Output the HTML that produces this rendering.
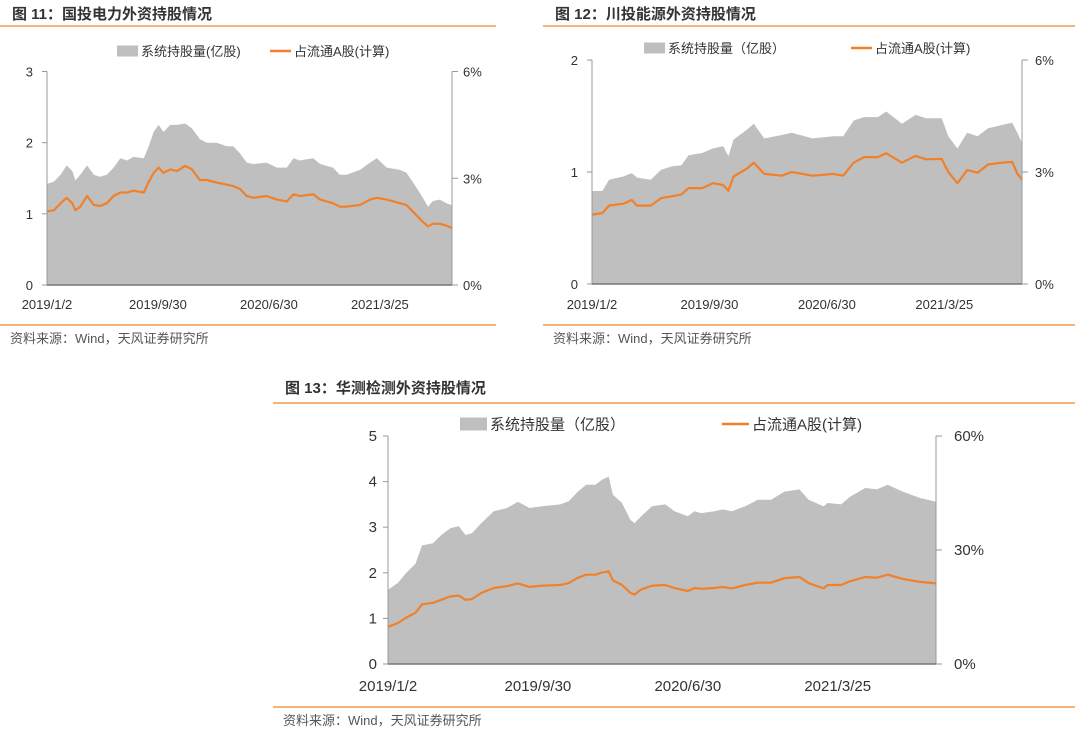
<!DOCTYPE html>
<html><head><meta charset="utf-8">
<style>
body{margin:0;background:#fff;width:1080px;height:735px;overflow:hidden;font-family:"Liberation Sans","Noto Sans CJK SC",sans-serif;}
svg text{font-family:"Liberation Sans","Noto Sans CJK SC",sans-serif;}
</style></head>
<body>
<svg id="root" width="1080" height="735" xmlns="http://www.w3.org/2000/svg">
</svg>
<script>
// ---- Chart 1: 国投电力 ----
const c1Days = [0,11,22,32,41,46,54,65,76,86,97,108,119,130,140,157,165,173,181,189,200,211,224,235,248,259,275,292,302,313,324,335,356,373,389,400,410,432,443,464,475,486,508,524,535,551,572,583,597,608,618,626,637,648,657];
const c1Hold = [1.42,1.45,1.55,1.68,1.6,1.47,1.55,1.68,1.55,1.52,1.55,1.65,1.78,1.75,1.8,1.78,1.95,2.15,2.25,2.15,2.25,2.25,2.27,2.2,2.05,2.0,2.0,1.95,1.95,1.85,1.72,1.7,1.72,1.65,1.65,1.78,1.75,1.78,1.7,1.65,1.55,1.55,1.62,1.72,1.78,1.65,1.62,1.58,1.4,1.25,1.1,1.18,1.2,1.15,1.12];
const c1Ratio = [2.07,2.1,2.3,2.45,2.3,2.1,2.2,2.5,2.25,2.22,2.3,2.5,2.6,2.6,2.65,2.6,2.9,3.15,3.3,3.15,3.25,3.2,3.35,3.25,2.95,2.95,2.88,2.82,2.78,2.7,2.5,2.45,2.5,2.4,2.35,2.55,2.5,2.55,2.4,2.3,2.2,2.2,2.25,2.4,2.45,2.4,2.3,2.25,2.0,1.8,1.65,1.72,1.72,1.67,1.6];
const c1LeftTicks = [0,1,2,3];
const c1RightTicks = [0,3,6];
// ---- Chart 2: 川投能源 ----
const c2Days = [0,16,26,48,61,69,90,106,122,137,148,169,185,201,209,217,238,248,264,291,306,338,370,385,401,417,438,451,475,496,512,536,546,560,575,591,607,628,644,652,659];
const c2Hold = [0.83,0.83,0.93,0.96,0.99,0.95,0.93,1.02,1.05,1.06,1.15,1.17,1.21,1.23,1.14,1.29,1.38,1.43,1.30,1.33,1.35,1.30,1.32,1.32,1.46,1.49,1.49,1.54,1.43,1.51,1.48,1.48,1.32,1.21,1.35,1.32,1.39,1.42,1.44,1.35,1.26];
const c2Ratio = [1.86,1.9,2.1,2.15,2.25,2.1,2.1,2.3,2.35,2.4,2.57,2.57,2.7,2.65,2.5,2.88,3.1,3.25,2.95,2.9,3.0,2.9,2.95,2.9,3.25,3.4,3.4,3.5,3.25,3.43,3.34,3.35,3.0,2.7,3.05,2.98,3.2,3.25,3.27,2.95,2.8];
const c2LeftTicks = [0,1,2];
const c2RightTicks = [0,3,6];
// ---- Chart 3: 华测检测 ----
const c3Days = [0,12,22,33,41,54,64,75,85,93,101,112,127,143,156,170,185,207,217,228,238,249,257,265,270,281,291,296,304,317,333,344,360,368,376,392,402,413,429,444,460,476,494,505,523,528,544,555,573,587,600,618,639,658];
const c3Hold = [1.63,1.78,2.0,2.2,2.6,2.65,2.83,2.98,3.02,2.83,2.87,3.09,3.35,3.42,3.56,3.42,3.46,3.50,3.57,3.78,3.93,3.93,4.04,4.11,3.71,3.53,3.16,3.09,3.24,3.46,3.50,3.35,3.24,3.35,3.31,3.35,3.39,3.35,3.46,3.60,3.60,3.78,3.83,3.60,3.46,3.53,3.50,3.67,3.86,3.83,3.93,3.78,3.64,3.56];
const c3Ratio = [9.8,10.8,12.2,13.5,15.7,16.1,16.9,17.8,18,16.9,17.1,18.7,20,20.5,21.2,20.3,20.6,20.8,21.3,22.7,23.5,23.5,24.1,24.4,22,20.8,18.7,18.3,19.6,20.6,20.8,20,19.2,20,19.8,20,20.3,19.9,20.8,21.4,21.4,22.6,22.9,21.3,19.9,20.8,20.8,21.8,22.9,22.7,23.5,22.4,21.6,21.2];
const c3LeftTicks = [0,1,2,3,4,5];
const c3RightTicks = [0,30,60];
// shared x-axis labels
const dateLabels = ["2019/1/2","2019/9/30","2020/6/30","2021/3/25"];
const dateLabelDays = [0,180,360,540];

const NS="http://www.w3.org/2000/svg";
const root=document.getElementById('root');
function mk(tag,attrs,parent,txt){const e=document.createElementNS(NS,tag);for(const k in attrs)e.setAttribute(k,attrs[k]);if(txt!==undefined)e.textContent=txt;(parent||root).appendChild(e);return e;}

function drawChart(cfg){
  const g=mk('g',{});
  
  
  const t=mk('text',{x:cfg.titleX,y:cfg.titleY,'font-size':15,'font-weight':'bold',fill:'#333'},g,cfg.title);
  
  
  const r1=mk('line',{x1:cfg.boxL,x2:cfg.boxR,y1:cfg.ruleTop,y2:cfg.ruleTop,stroke:'#F29A50','stroke-width':1.5},g);
  
  
  const r2=mk('line',{x1:cfg.boxL,x2:cfg.boxR,y1:cfg.ruleBot,y2:cfg.ruleBot,stroke:'#F29A50','stroke-width':1.5},g);
  
  
  const src=mk('text',{x:cfg.titleX-2,y:cfg.ruleBot+18,'font-size':13,fill:'#555'},g,'资料来源：Wind，天风证券研究所');
  
  

  const L=cfg.L,R=cfg.R,T=cfg.T,B=cfg.B;
  const maxDay=cfg.days[cfg.days.length-1];
  const xs=d=>L+(d/maxDay)*(R-L);
  const yl=v=>B-(v/cfg.lmax)*(B-T);
  const yr=v=>B-(v/cfg.rmax)*(B-T);

  // area
  let d='M'+xs(cfg.days[0])+','+B;
  cfg.days.forEach((dd,i)=>{d+=' L'+xs(dd).toFixed(1)+','+yl(cfg.hold[i]).toFixed(1);});
  d+=' L'+xs(maxDay)+','+B+' Z';
  const area=mk('path',{d:d,fill:'#BFBFBF'},g);
  
  
  // line
  let pts=cfg.days.map((dd,i)=>xs(dd).toFixed(1)+','+yr(cfg.ratio[i]).toFixed(1)).join(' ');
  const ln=mk('polyline',{points:pts,fill:'none',stroke:'#F0802A','stroke-width':2.2,'stroke-linejoin':'round'},g);
  
  

  // axes
  const la=mk('line',{x1:L,x2:L,y1:T,y2:B,stroke:'#999'},g);
  
  
  const ra=mk('line',{x1:R,x2:R,y1:T,y2:B,stroke:'#999'},g);
  
  
  const xa=mk('line',{x1:L,x2:R,y1:B,y2:B,stroke:'#777','stroke-width':1.5},g);
  
  
  cfg.lt.forEach(v=>{
    const y=yl(v);
    mk('line',{x1:L-5,x2:L,y1:y,y2:y,stroke:'#999'},g);
    const tx=mk('text',{x:L-cfg.lLabOff,y:y+5,'font-size':cfg.fs,fill:'#333','text-anchor':'end'},g,String(v));
    
    
  });
  cfg.rt.forEach(v=>{
    const y=yr(v);
    mk('line',{x1:R,x2:R+6,y1:y,y2:y,stroke:'#999'},g);
    const tx=mk('text',{x:R+cfg.rLabOff,y:y+5,'font-size':cfg.fs,fill:'#333'},g,v+'%');
    
    
  });
  dateLabels.forEach((s,i)=>{
    const tx=mk('text',{x:xs(dateLabelDays[i]),y:cfg.xLabY,'font-size':cfg.fs,fill:'#333','text-anchor':'middle'},g,s);
    
    
  });
  // legend
  const lg=mk('g',{},g);
  
  
  const sw=mk('rect',{x:cfg.lg1,y:cfg.lgY-cfg.lgH/2,width:cfg.lgW,height:cfg.lgH,fill:'#BFBFBF'},lg);
  
  
  const t1=mk('text',{x:cfg.lg1+cfg.lgW+3,y:cfg.lgY+cfg.fs*0.38,'font-size':cfg.fs,fill:'#333'},lg,cfg.lgText1);
  
  
  const sl=mk('line',{x1:cfg.lg2,x2:cfg.lg2+cfg.lgW,y1:cfg.lgY,y2:cfg.lgY,stroke:'#F0802A','stroke-width':2.5},lg);
  
  
  const t2=mk('text',{x:cfg.lg2+cfg.lgW+3,y:cfg.lgY+cfg.fs*0.38,'font-size':cfg.fs,fill:'#333'},lg,'占流通A股(计算)');
  
  
}

drawChart({id:'chart-guotou-power',title:'图 11：国投电力外资持股情况',titleX:12,titleY:19,boxL:0,boxR:496,ruleTop:26,ruleBot:325,
  L:47,R:452,T:71.5,B:285,lmax:3,rmax:6,days:c1Days,hold:c1Hold,ratio:c1Ratio,lt:c1LeftTicks,rt:c1RightTicks,
  fs:13,lLabOff:14,rLabOff:11,xLabY:309,lgY:51,lgH:11,lgW:21,lg1:117,lg2:270,lgText1:'系统持股量(亿股)'});
drawChart({id:'chart-chuantou-energy',title:'图 12：川投能源外资持股情况',titleX:555,titleY:19,boxL:543,boxR:1075,ruleTop:26,ruleBot:325,
  L:592,R:1022,T:60,B:284,lmax:2,rmax:6,days:c2Days,hold:c2Hold,ratio:c2Ratio,lt:c2LeftTicks,rt:c2RightTicks,
  fs:13,lLabOff:14,rLabOff:13,xLabY:309,lgY:48,lgH:11,lgW:21,lg1:644,lg2:851,lgText1:'系统持股量（亿股）'});
drawChart({id:'chart-huace-testing',title:'图 13：华测检测外资持股情况',titleX:285,titleY:393,boxL:273,boxR:1075,ruleTop:403,ruleBot:707,
  L:388,R:936,T:436,B:664,lmax:5,rmax:60,days:c3Days,hold:c3Hold,ratio:c3Ratio,lt:c3LeftTicks,rt:c3RightTicks,
  fs:15,lLabOff:11,rLabOff:18,xLabY:691,lgY:424,lgH:13,lgW:27,lg1:460,lg2:722,lgText1:'系统持股量（亿股）'});
</script>
</body></html>
